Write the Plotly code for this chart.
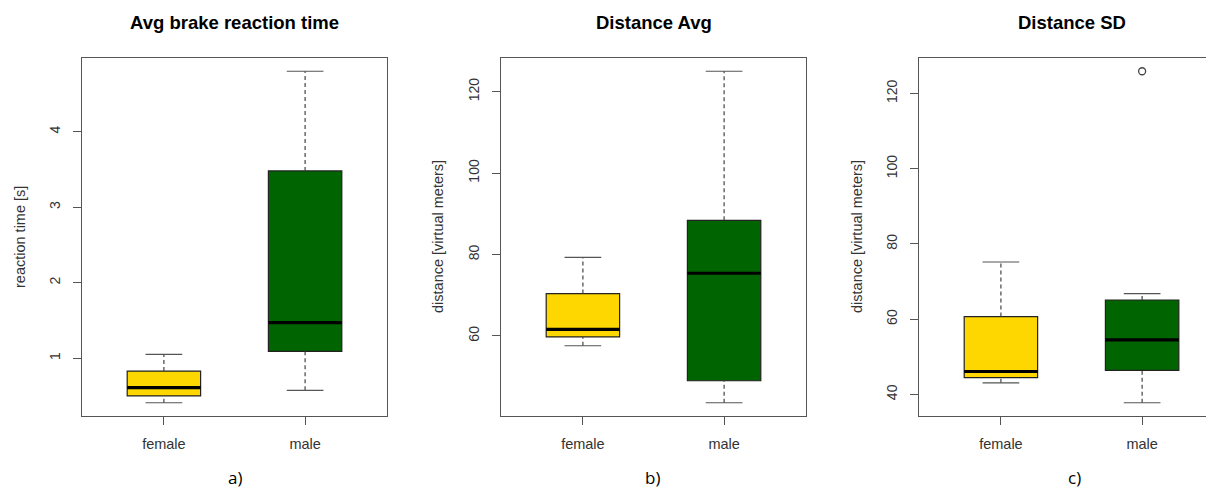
import plotly.graph_objects as go

# ---------------- data ----------------
categories = ["female", "male"]
positions = [1, 2]

rt_lower = [0.41, 0.575]
rt_q1 = [0.50, 1.09]
rt_median = [0.61, 1.47]
rt_q3 = [0.83, 3.48]
rt_upper = [1.05, 4.80]
rt_outliers = [[], []]

da_lower = [57.6, 43.6]
da_q1 = [59.75, 49.0]
da_median = [61.6, 75.4]
da_q3 = [70.4, 88.4]
da_upper = [79.3, 125.0]
da_outliers = [[], []]

sd_lower = [43.1, 37.8]
sd_q1 = [44.5, 46.4]
sd_median = [46.1, 54.5]
sd_q3 = [60.7, 65.1]
sd_upper = [75.2, 66.8]
sd_outliers = [[], [125.9]]

titles = ["Avg brake reaction time", "Distance Avg", "Distance SD"]
ytitles = ["reaction time [s]", "distance [virtual meters]", "distance [virtual meters]"]
panel_labels = ["a)", "b)", "c)"]
yticks = [[1, 2, 3, 4], [60, 80, 100, 120], [40, 60, 80, 100, 120]]

colors = ["#FFD700", "#006400"]

# ---------------- layout constants ----------------
# page body has an 8px margin, so the figure is offset by 8px
OFF = 8
W, H = 1214 - OFF, 490 - OFF
BOX_W = 0.52
CAP_W = 0.26


def px(v):
    return (v - OFF) / W


def py(v):
    return 1 - (v - OFF) / H


x_doms = [[px(82), px(387)], [px(501), px(806)], [px(919), 1.0]]
x_ranges = [[0.42, 2.58], [0.42, 2.58], [0.42, 2.509]]
y_dom = [py(416), py(58)]
title_x = [234.5, 653.5, 1071.5]
label_x = [235, 653, 1074]
ytitle_x = [20, 438, 857]

AX_COL = "#555555"
TXT_COL = "#333333"

panels = [
    (rt_lower, rt_q1, rt_median, rt_q3, rt_upper, rt_outliers),
    (da_lower, da_q1, da_median, da_q3, da_upper, da_outliers),
    (sd_lower, sd_q1, sd_median, sd_q3, sd_upper, sd_outliers),
]

fig = go.Figure()
annotations = []

for p, (lo, q1, med, q3, up, outs) in enumerate(panels):
    xa = "x" if p == 0 else f"x{p+1}"
    ya = "y" if p == 0 else f"y{p+1}"
    for i, cat in enumerate(categories):
        x = positions[i]
        # whiskers (dashed)
        for a, b in ((q3[i], up[i]), (lo[i], q1[i])):
            fig.add_trace(go.Scatter(x=[x, x], y=[a, b], mode="lines",
                                     line=dict(color="#444444", width=1.2, dash="4px,3px"),
                                     xaxis=xa, yaxis=ya, showlegend=False, hoverinfo="skip"))
        # staples
        for v in (lo[i], up[i]):
            fig.add_trace(go.Scatter(x=[x - CAP_W / 2, x + CAP_W / 2], y=[v, v],
                                     mode="lines", line=dict(color="#555555", width=1.2),
                                     xaxis=xa, yaxis=ya, showlegend=False, hoverinfo="skip"))
        # box
        fig.add_trace(go.Box(x=[x], q1=[q1[i]], median=[med[i]], q3=[q3[i]],
                             lowerfence=[q1[i]], upperfence=[q3[i]],
                             width=BOX_W, whiskerwidth=0,
                             fillcolor=colors[i], line=dict(color="#222222", width=1.2),
                             xaxis=xa, yaxis=ya, showlegend=False, name=cat,
                             boxpoints=False))
        # thick median
        fig.add_trace(go.Scatter(x=[x - BOX_W / 2, x + BOX_W / 2], y=[med[i], med[i]],
                                 mode="lines", line=dict(color="black", width=3.2),
                                 xaxis=xa, yaxis=ya, showlegend=False, hoverinfo="skip"))
        if outs[i]:
            fig.add_trace(go.Scatter(x=[x] * len(outs[i]), y=outs[i], mode="markers",
                                     marker=dict(symbol="circle-open", size=7,
                                                 color="#444444", line=dict(width=1.3)),
                                     xaxis=xa, yaxis=ya, showlegend=False))

    allv = lo + up + [v for o in outs for v in o]
    span = max(allv) - min(allv)
    yr = [min(allv) - 0.04 * span, max(allv) + 0.04 * span]

    xkey = "xaxis" if p == 0 else f"xaxis{p+1}"
    ykey = "yaxis" if p == 0 else f"yaxis{p+1}"
    fig.update_layout(**{
        xkey: dict(domain=x_doms[p], range=x_ranges[p], anchor=ya,
                   tickvals=positions, ticktext=categories,
                   showline=True, linecolor=AX_COL, linewidth=1.3, mirror=True,
                   ticks="outside", ticklen=8, tickcolor=AX_COL, tickwidth=1.3,
                   ticklabelstandoff=6,
                   tickfont=dict(family="Liberation Sans", size=14.5, color=TXT_COL),
                   showgrid=False, zeroline=False, fixedrange=True),
        ykey: dict(domain=y_dom, range=yr, anchor=xa,
                   tickvals=yticks[p], tickangle=-90,
                   showline=True, linecolor=AX_COL, linewidth=1.3,
                   mirror=(p != 2),
                   ticks="outside", ticklen=8, tickcolor=AX_COL, tickwidth=1.3,
                   ticklabelstandoff=7,
                   tickfont=dict(family="Liberation Sans", size=14, color=TXT_COL),
                   showgrid=False, zeroline=False, fixedrange=True),
    })

    annotations.append(dict(text=f"<b>{titles[p]}</b>", x=px(title_x[p]), y=py(22),
                            xref="paper", yref="paper", showarrow=False,
                            xanchor="center", yanchor="middle",
                            font=dict(family="Liberation Sans", size=18.5, color="black")))
    annotations.append(dict(text=ytitles[p], x=px(ytitle_x[p]), y=py(237),
                            xref="paper", yref="paper", showarrow=False, textangle=-90,
                            xanchor="center", yanchor="middle",
                            font=dict(family="Liberation Sans", size=14.5, color=TXT_COL)))
    annotations.append(dict(text=panel_labels[p], x=px(label_x[p]), y=0,
                            xref="paper", yref="paper", showarrow=False,
                            xanchor="center", yanchor="bottom", borderpad=0,
                            font=dict(family="Open Sans", size=17, color="black")))

fig.update_layout(width=W, height=H, margin=dict(l=0, r=0, t=0, b=0),
                  paper_bgcolor="white", plot_bgcolor="white",
                  annotations=annotations, showlegend=False)

fig.write_html("out.html")
